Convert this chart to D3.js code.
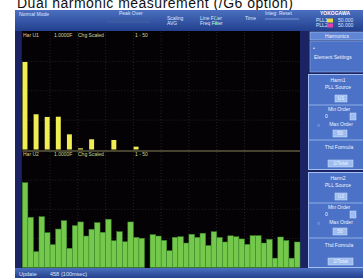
<!DOCTYPE html>
<html>
<head>
<meta charset="utf-8">
<script src="https://cdnjs.cloudflare.com/ajax/libs/d3/7.8.5/d3.min.js"></script>
<style>
body { margin: 0; background: #fff; overflow: hidden; }
text { font-family: "Liberation Sans", Arial, sans-serif; }
</style>
</head>
<body>
<script>
// Порядки гармоник
const orders = [1,2,3,4,5,6,7,8,9,10,11,12,13,14,15,16,17,18,19,20,
  21,22,23,24,25,26,27,28,29,30,31,32,33,34,35,36,37,38,39,40,
  41,42,43,44,45,46,47,48,49,50];

// Harm1 (U1), % от шкалы
const harm1 = [74.5,0,30.0,0,27.7,0,27.9,0,12.9,0,1.0,0,8.7,0,0,0,8.1,0,0,0,
  2.4,0,0,0,0,0,0,0,0,0,0,0,0,0,0,0,0,0,0,0,
  0,0,0,0,0,0,0,0,0,0];

// Harm2 (U2), % от шкалы
const harm2 = [72.8,43.1,13.6,43.6,29.9,19.6,33.0,40.2,16.5,35.9,39.1,27.0,32.8,38.5,30.2,41.4,23.0,30.7,22.1,39.1,
  25.9,25.1,0,28.2,27.0,23.3,14.4,25.9,26.4,21.0,28.5,25.9,29.4,18.9,30.7,25.8,21.9,27.2,26.4,24.5,
  19.9,27.3,27.3,21.0,24.2,8.0,26.2,23.2,8.0,21.9];

const headers1 = ["Har U1", "1.0000F", "Chg Scaled", "1 - 50"];
const headers2 = ["Har U2", "1.0000F", "Chg Scaled", "1 - 50"];

const W = 363, H = 278;
const svg = d3.select("body").append("svg").attr("width", W).attr("height", H);

const defs = svg.append("defs");
const gTop = defs.append("linearGradient").attr("id", "bar").attr("x1", 0).attr("y1", 0).attr("x2", 0).attr("y2", 1);
gTop.append("stop").attr("offset", 0).attr("stop-color", "#4b6fbf");
gTop.append("stop").attr("offset", 1).attr("stop-color", "#22408e");

// Заголовок (обрезан сверху)
svg.append("text").attr("x", 17).attr("y", 7.5)
  .attr("font-size", 14).attr("textLength", 276).attr("fill", "#111")
  .text("Dual harmonic measurement (/G6 option)");

// Экран
svg.append("rect").attr("x", 15).attr("y", 10).attr("width", 348).attr("height", 268).attr("fill", "#1b2363");
svg.append("rect").attr("x", 15).attr("y", 10).attr("width", 348).attr("height", 21).attr("fill", "url(#bar)");
svg.append("rect").attr("x", 15).attr("y", 268).attr("width", 348).attr("height", 10).attr("fill", "url(#bar)");

const x0 = 22.3, x1 = 300;
svg.append("rect").attr("x", x0 - 0.5).attr("y", 31).attr("width", x1 - x0 + 0.5).attr("height", 237).attr("fill", "#050205");

// Шкалы
const x = d3.scaleBand().domain(orders).range([x0, x1]).paddingInner(0);
const yUp = d3.scaleLinear().domain([0, 100]).range([149.5, 32]);
const yLo = d3.scaleLinear().domain([0, 100]).range([267.5, 151]);
const gx = d3.scaleLinear().domain([0, 10]).range([x0, x1]);

// Сетка
const grid = svg.append("g").attr("stroke", "#3a3a3a").attr("stroke-width", 0.6).attr("stroke-dasharray", "1,2");
grid.selectAll(".v").data(d3.range(1, 10)).join("line")
  .attr("x1", d => gx(d)).attr("x2", d => gx(d)).attr("y1", 32).attr("y2", 267);
[yUp, yLo].forEach(s => {
  grid.selectAll(null).data([25, 50, 75]).join("line")
    .attr("x1", x0).attr("x2", x1).attr("y1", d => s(d)).attr("y2", d => s(d));
});

// Столбцы Harm1
svg.append("g").selectAll("rect").data(orders.filter((o, i) => harm1[i] > 0)).join("rect")
  .attr("x", d => x(d) + 0.2).attr("width", x.bandwidth() - 0.6)
  .attr("y", d => yUp(harm1[d - 1])).attr("height", d => yUp(0) - yUp(harm1[d - 1]))
  .attr("fill", "#f0ee52");

// Разделитель
svg.append("line").attr("x1", x0).attr("x2", x1).attr("y1", 151).attr("y2", 151)
  .attr("stroke", "#5c5a3e").attr("stroke-width", 1.5);

// Столбцы Harm2
svg.append("g").selectAll("rect").data(orders.filter((o, i) => harm2[i] > 0)).join("rect")
  .attr("x", d => x(d)).attr("width", x.bandwidth())
  .attr("y", d => yLo(harm2[d - 1])).attr("height", d => yLo(0) - yLo(harm2[d - 1]))
  .attr("fill", "#74c94c").attr("stroke", "#3d8a2c").attr("stroke-width", 0.5);

// Заголовки окон
const hx = [23, 54, 78, 135];
function header(list, y, col) {
  svg.append("g").selectAll("text").data(list).join("text")
    .attr("x", (d, i) => hx[i]).attr("y", y)
    .attr("font-size", 5).attr("fill", col).text(d => d);
}
header(headers1, 37, "#d6d69a");
header(headers2, 156, "#c9d88a");

// Статусная строка
const st = svg.append("g").attr("font-size", 5).attr("fill", "#dde6ff");
st.append("text").attr("x", 19).attr("y", 16).text("Normal Mode");
st.append("text").attr("x", 119).attr("y", 15).text("Peak Over");
st.append("rect").attr("x", 107).attr("y", 18).attr("width", 43).attr("height", 5).attr("fill", "#3a5aa6");
st.append("text").attr("x", 167).attr("y", 19.5).text("Scaling");
st.append("text").attr("x", 167).attr("y", 25).text("AVG");
st.append("text").attr("x", 200).attr("y", 19.5).text("Line Filter");
st.append("text").attr("x", 200).attr("y", 25).text("Freq Filter");
st.append("circle").attr("cx", 216).attr("cy", 18).attr("r", 1.2).attr("fill", "#3f7a50");
st.append("circle").attr("cx", 216).attr("cy", 23.5).attr("r", 1.2).attr("fill", "#4cf070");
st.append("text").attr("x", 245).attr("y", 19.5).text("Time");
st.append("text").attr("x", 265).attr("y", 15).text("Integ: Reset");
st.append("rect").attr("x", 265).attr("y", 18).attr("width", 34).attr("height", 2).attr("fill", "#5a78c0");
st.append("text").attr("x", 320).attr("y", 15).attr("font-weight", "bold").attr("fill", "#fff").text("YOKOGAWA");
st.append("text").attr("x", 316).attr("y", 22).text("PLL1");
st.append("rect").attr("x", 327).attr("y", 18.5).attr("width", 6).attr("height", 4).attr("fill", "#e8d840");
st.append("text").attr("x", 338).attr("y", 22).text("50.000");
st.append("text").attr("x", 316).attr("y", 27).text("PLL2");
st.append("rect").attr("x", 327).attr("y", 23.5).attr("width", 6).attr("height", 4).attr("fill", "#e040b0");
st.append("text").attr("x", 338).attr("y", 27).text("50.000");

// Нижняя строка
const bt = svg.append("g").attr("font-size", 5.5).attr("fill", "#dde6ff");
bt.append("text").attr("x", 19).attr("y", 276).text("Update");
bt.append("text").attr("x", 50).attr("y", 276).text("458");
bt.append("text").attr("x", 61).attr("y", 276).text("(100msec)");

// Правая панель
const p = svg.append("g").attr("font-size", 5).attr("fill", "#eef2ff");
p.append("rect").attr("x", 310).attr("y", 32).attr("width", 54).attr("height", 8)
  .attr("fill", "#5f85d4").attr("stroke", "#a9c4f2").attr("stroke-width", 0.6);
p.append("text").attr("x", 337).attr("y", 38).attr("text-anchor", "middle").text("Harmonics");
p.append("rect").attr("x", 310).attr("y", 41).attr("width", 54).attr("height", 31)
  .attr("fill", "#4b72c6").attr("stroke", "#8fb0e8").attr("stroke-width", 0.6);
p.append("text").attr("x", 313).attr("y", 50).text("•");
p.append("text").attr("x", 314).attr("y", 59).text("Element Settings");

function button(x, y, w, label) {
  p.append("rect").attr("x", x).attr("y", y).attr("width", w).attr("height", 7)
    .attr("fill", "#9dbdf0").attr("stroke", "#d6e4ff").attr("stroke-width", 0.5);
  if (label) p.append("text").attr("x", x + w / 2).attr("y", y + 5.3).attr("text-anchor", "middle").text(label);
}

[["Harm1", "U1", 0], ["Harm2", "U2", 98]].forEach(([name, src, dy]) => {
  p.append("rect").attr("x", 308.5).attr("y", 74.5 + dy).attr("width", 56).attr("height", 95)
    .attr("fill", "#4b72c6").attr("stroke", "#a3bff0").attr("stroke-width", 1);
  [105, 140].forEach(yy => p.append("line").attr("x1", 309).attr("x2", 363)
    .attr("y1", yy + dy).attr("y2", yy + dy).attr("stroke", "#a3bff0").attr("stroke-width", 0.8));
  p.append("text").attr("x", 338).attr("y", 82 + dy).attr("text-anchor", "middle").text(name);
  p.append("text").attr("x", 338).attr("y", 89 + dy).attr("text-anchor", "middle").text("PLL Source");
  button(335, 95 + dy, 12, src);
  p.append("text").attr("x", 339).attr("y", 111 + dy).attr("text-anchor", "middle").text("Min Order");
  p.append("text").attr("x", 325).attr("y", 118 + dy).text("0");
  button(350, 113 + dy, 6, "");
  p.append("text").attr("x", 317).attr("y", 126.5 + dy).text("○");
  p.append("text").attr("x", 341).attr("y", 126 + dy).attr("text-anchor", "middle").text("Max Order");
  button(333, 130 + dy, 14, "50");
  p.append("text").attr("x", 339).attr("y", 149 + dy).attr("text-anchor", "middle").text("Thd Formula");
  button(328, 160 + dy, 25, "1/Total");
});
</script>
</body>
</html>
